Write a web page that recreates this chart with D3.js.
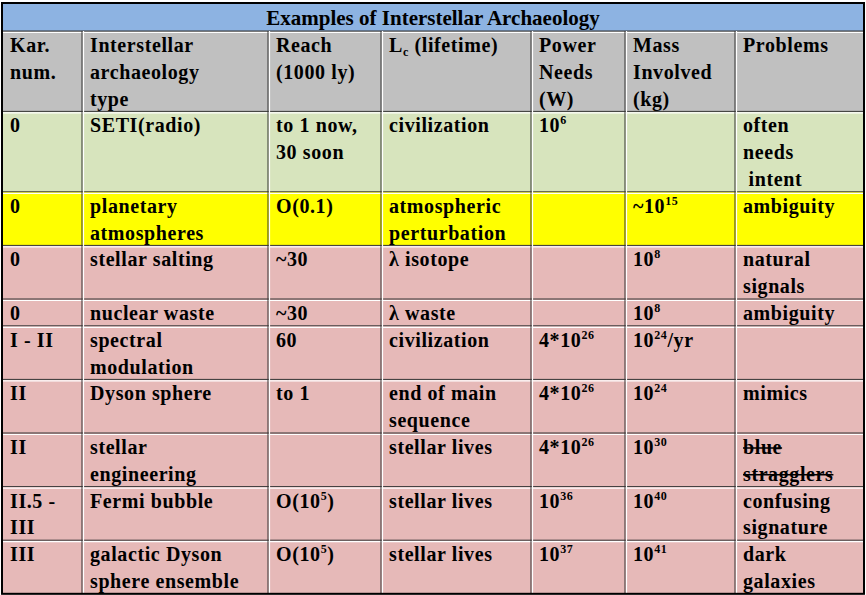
<!DOCTYPE html>
<html><head><meta charset="utf-8">
<script src="https://cdn.jsdelivr.net/npm/d3@7"></script>
<style>body{margin:0;background:#fff} text{font-family:"Liberation Serif","Times New Roman","DejaVu Serif",serif;}</style></head>
<body><svg id="c" width="866" height="595"></svg>
<script>
const title = "Examples of Interstellar Archaeology";
const columns = ["Kar. num.","type","reach","lifetime","power","mass","problems"];
const colEdges = [2,82,268,381,531,625,735,864];
const header = [["Kar.","num."],["Interstellar","archaeology","type"],["Reach","(1000 ly)"],["L_{c} (lifetime)"],["Power","Needs","(W)"],["Mass","Involved","(kg)"],["Problems"]];
const rows = [
 [["0"],["SETI(radio)"],["to 1 now,","30 soon"],["civilization"],["10^{6}"],[],["often","needs","\u00a0intent"]],
 [["0"],["planetary","atmospheres"],["O(0.1)"],["atmospheric","perturbation"],[],["~10^{15}"],["ambiguity"]],
 [["0"],["stellar salting"],["~30"],["λ isotope"],[],["10^{8}"],["natural","signals"]],
 [["0"],["nuclear waste"],["~30"],["λ waste"],[],["10^{8}"],["ambiguity"]],
 [["I - II"],["spectral","modulation"],["60"],["civilization"],["4*10^{26}"],["10^{24}/yr"],[]],
 [["II"],["Dyson sphere"],["to 1"],["end of main","sequence"],["4*10^{26}"],["10^{24}"],["mimics"]],
 [["II"],["stellar","engineering"],[],["stellar lives"],["4*10^{26}"],["10^{30}"],["~blue","~stragglers"]],
 [["II.5 -","III"],["Fermi bubble"],["O(10^{5})"],["stellar lives"],["10^{36}"],["10^{40}"],["confusing","signature"]],
 [["III"],["galactic Dyson","sphere ensemble"],["O(10^{5})"],["stellar lives"],["10^{37}"],["10^{41}"],["dark","galaxies"]]
];
const rowLines = [3,3,2,2,1,2,2,2,2,2];
const rowColors = ["#c0c0c0","#d7e4bd","#ffff00","#e6b9b8","#e6b9b8","#e6b9b8","#e6b9b8","#e6b9b8","#e6b9b8","#e6b9b8"];

const svg = d3.select("#c");
const lineH = 26.8, top0 = 31, titleTop = 3;
const ys = [top0]; rowLines.forEach(n=>ys.push(ys[ys.length-1]+n*lineH));
const all = [header, ...rows];

svg.append("rect").attr("x",colEdges[0]).attr("y",titleTop).attr("width",colEdges[7]-colEdges[0]).attr("height",top0-titleTop).attr("fill","#8db3e2");
svg.append("text").attr("x",(colEdges[0]+colEdges[7])/2).attr("y",25).attr("text-anchor","middle")
  .attr("font-weight","bold").attr("font-size",21).text(title);

svg.selectAll("rect.row").data(all).join("rect").attr("class","row")
  .attr("x",colEdges[0]).attr("y",(d,i)=>ys[i]).attr("width",colEdges[7]-colEdges[0])
  .attr("height",(d,i)=>ys[i+1]-ys[i]).attr("fill",(d,i)=>rowColors[i]);

function addRich(t, s){
  const re=/(\^\{[^}]*\}|_\{[^}]*\})/; const parts=s.split(re);
  let shifted=0;
  parts.forEach(p=>{ if(!p) return;
    if(p.startsWith("^{")){ t.append("tspan").attr("dy",-8).attr("font-size",12).text(p.slice(2,-1)); shifted=8; }
    else if(p.startsWith("_{")){ t.append("tspan").attr("dy",4).attr("font-size",12).text(p.slice(2,-1)); shifted=-4; }
    else { const ts=t.append("tspan").text(p); if(shifted){ts.attr("dy",shifted); shifted=0;} }
  });
}
all.forEach((row,ri)=>{
  row.forEach((cell,ci)=>{
    cell.forEach((line,li)=>{
      const strike=line.startsWith("~")&&ci===6&&ri===7;
      const txt=strike?line.slice(1):line;
      const x=colEdges[ci]+8, y=ys[ri]+21+li*lineH;
      const t=svg.append("text").attr("x",x).attr("y",y)
        .attr("font-weight","bold").attr("font-size",20).attr("letter-spacing",0.6).attr("fill","#000");
      addRich(t,txt);
      if(strike){ const w=t.node().getComputedTextLength();
        svg.append("line").attr("x1",x).attr("x2",x+w).attr("y1",y-6).attr("y2",y-6).attr("stroke","#000").attr("stroke-width",1.5); }
    });
  });
});
const g=svg.append("g");
ys.forEach(y=>{ g.append("line").attr("x1",colEdges[0]).attr("x2",colEdges[7]).attr("y1",y).attr("y2",y).attr("stroke","#333").attr("stroke-width",1);
  g.append("line").attr("x1",colEdges[0]).attr("x2",colEdges[7]).attr("y1",y+1.5).attr("y2",y+1.5).attr("stroke","#fff").attr("stroke-width",1.2);});
colEdges.slice(1,-1).forEach(x=>{ g.append("line").attr("x1",x).attr("x2",x).attr("y1",top0).attr("y2",ys[ys.length-1]).attr("stroke","#333").attr("stroke-width",1);
  g.append("line").attr("x1",x+1.5).attr("x2",x+1.5).attr("y1",top0).attr("y2",ys[ys.length-1]).attr("stroke","#fff").attr("stroke-width",1.2);});
g.append("rect").attr("x",colEdges[0]).attr("y",titleTop).attr("width",colEdges[7]-colEdges[0]).attr("height",ys[ys.length-1]-titleTop)
  .attr("fill","none").attr("stroke","#000").attr("stroke-width",2);
</script></body></html>
